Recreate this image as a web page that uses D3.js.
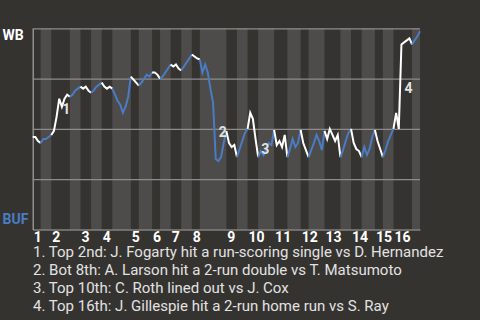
<!DOCTYPE html>
<html>
<head>
<meta charset="utf-8">
<script src="https://cdn.jsdelivr.net/npm/d3@7"></script>
<style>
  html, body { margin: 0; padding: 0; background: #353330; }
  svg { display: block; font-family: Roboto, "Noto Sans", sans-serif; }
</style>
</head>
<body>
<svg id="chart" width="480" height="320"></svg>
<script>
// teams: visitor on top, home on bottom
const teams = ['WB', 'BUF'];
const innings = [1, 2, 3, 4, 5, 6, 7, 8, 9, 10, 11, 12, 13, 14, 15, 16];

// number of plays in each half inning (top 1st, bot 1st, top 2nd, ...)
const playsPerHalf = [
  3, 4,  7, 4,  4, 4,  4, 7,  3, 5,  3, 4,  4, 4,  3, 10,
  4, 4,  4, 6,  5, 5,  3, 6,  6, 4,  4, 5,  3, 4,  7, 3
];

// WB win probability (%) after each play, first value = before first pitch
const wbWinPct = [
  46,
  46, 44, 43,                 45, 45, 46, 47,
  49, 56, 65, 61, 65, 67, 66, 67, 69, 70, 71,
  70, 71, 69, 68,             69, 71, 72, 73,
  71, 70, 71, 70,             67, 64, 62, 58, 61, 66, 76,
  74.5, 73, 71.5,             73, 75, 77, 76, 78,
  78, 77, 75,                 76, 78, 80, 82,
  81, 82, 80, 79,             81, 83, 85, 87,
  86, 85, 84.5,               78, 82, 78, 70, 63, 35, 34, 36, 43, 49,
  43, 41, 42, 36,             40, 44, 48, 50,
  58, 55, 45, 36,             39, 37, 39.5, 43, 42, 49.5,
  42, 44, 41, 47, 36,         40, 45, 41, 43, 49.5,
  43, 39.5, 36,               39.5, 43, 47, 44, 39.5, 49,
  45, 50, 47, 44, 47, 36,     39.5, 44, 48, 50,
  43, 40, 39, 36,             41, 37, 40, 46, 49.5,
  44, 40, 36,                 39.5, 44, 47, 50,
  58, 50, 92, 93, 94, 95, 92, 94, 96, 98.5
];

// key plays: index into wbWinPct, and the notes listed under the chart
const eventPlays = [10, 69, 85, 139];
const eventNotes = [
  '1. Top 2nd: J. Fogarty hit a run-scoring single vs D. Hernandez',
  '2. Bot 8th: A. Larson hit a 2-run double vs T. Matsumoto',
  '3. Top 10th: C. Roth lined out vs J. Cox',
  '4. Top 16th: J. Gillespie hit a 2-run home run vs S. Ray'
];

const colors = {
  bg: '#353330',
  band: '#4d4c4a',
  grid: '#8e8c8a',
  axis: '#a9a7a5',
  top: '#ffffff',
  bottom: '#4a7cc4',
  note: '#e2e2e2'
};

const plot = { left: 32.7, right: 420, top: 28.3, bottom: 229.5 };

const svg = d3.select('#chart');

const bounds = [0, ...d3.cumsum(playsPerHalf)];

const x = d3.scaleLinear()
  .domain([0, wbWinPct.length - 1])
  .range([plot.left, plot.right]);

const y = d3.scaleLinear()
  .domain([0, 100])
  .range([plot.bottom, plot.top]);

// shaded bands for bottom halves
svg.append('g')
  .selectAll('rect')
  .data(d3.range(1, playsPerHalf.length, 2))
  .join('rect')
  .attr('x', (h) => x(bounds[h]))
  .attr('width', (h) => x(bounds[h + 1]) - x(bounds[h]))
  .attr('y', plot.top)
  .attr('height', plot.bottom - plot.top)
  .attr('fill', colors.band);

// horizontal grid + left axis line
const yAxis = svg.append('g')
  .attr('transform', `translate(${plot.left},0)`)
  .call(d3.axisLeft(y)
    .tickValues([25, 50, 75, 100])
    .tickSize(-(plot.right - plot.left))
    .tickSizeOuter(0)
    .tickFormat(''));
yAxis.selectAll('.tick line').attr('stroke', colors.grid).attr('stroke-width', 1.2);
yAxis.select('.domain').attr('stroke', colors.axis).attr('stroke-width', 1.2);

// inning labels along the bottom
const inningStarts = innings.map((d, i) => bounds[i * 2]);
const xAxis = svg.append('g')
  .attr('transform', `translate(0,${plot.bottom})`)
  .call(d3.axisBottom(x)
    .tickValues(inningStarts)
    .tickSize(0)
    .tickSizeOuter(0)
    .tickFormat((d, i) => innings[i]));
xAxis.select('.domain').attr('stroke', colors.axis).attr('stroke-width', 1.2);
xAxis.selectAll('.tick text')
  .attr('fill', '#ffffff')
  .attr('font-family', 'Roboto, sans-serif')
  .attr('font-size', 14)
  .attr('font-weight', 'bold')
  .attr('text-anchor', 'start')
  .attr('dx', 0.5)
  .attr('y', 3)
  .attr('dy', '0.71em');

// win probability line, coloured by half inning
const line = d3.line()
  .x((i) => x(i))
  .y((i) => y(wbWinPct[i]));

svg.append('g')
  .selectAll('path')
  .data(playsPerHalf.map((n, h) => h))
  .join('path')
  .attr('d', (h) => line(d3.range(bounds[h], bounds[h + 1] + 1)))
  .attr('fill', 'none')
  .attr('stroke', (h) => h % 2 === 0 ? colors.top : colors.bottom)
  .attr('stroke-width', 2)
  .attr('stroke-linejoin', 'miter');

// team labels
svg.append('text')
  .attr('x', 2.5)
  .attr('y', 39.5)
  .attr('fill', colors.top)
  .attr('font-size', 14)
  .attr('font-weight', 'bold')
  .text(teams[0]);

svg.append('text')
  .attr('x', 2.5)
  .attr('y', 224)
  .attr('fill', colors.bottom)
  .attr('font-size', 14)
  .attr('font-weight', 'bold')
  .text(teams[1]);

// event markers on the line
svg.append('g')
  .selectAll('text')
  .data(eventPlays)
  .join('text')
  .attr('x', (i) => x(i) + 3)
  .attr('y', (i) => y((wbWinPct[i - 1] + wbWinPct[i]) / 2) + 6)
  .attr('fill', colors.note)
  .attr('font-size', 14)
  .attr('font-weight', 'bold')
  .text((d, k) => k + 1);

// notes
svg.append('g')
  .selectAll('text')
  .data(eventNotes)
  .join('text')
  .attr('x', 33)
  .attr('y', (d, k) => 257 + k * 18)
  .attr('fill', colors.note)
  .attr('font-size', 15)
  .text((d) => d);
</script>
</body>
</html>
